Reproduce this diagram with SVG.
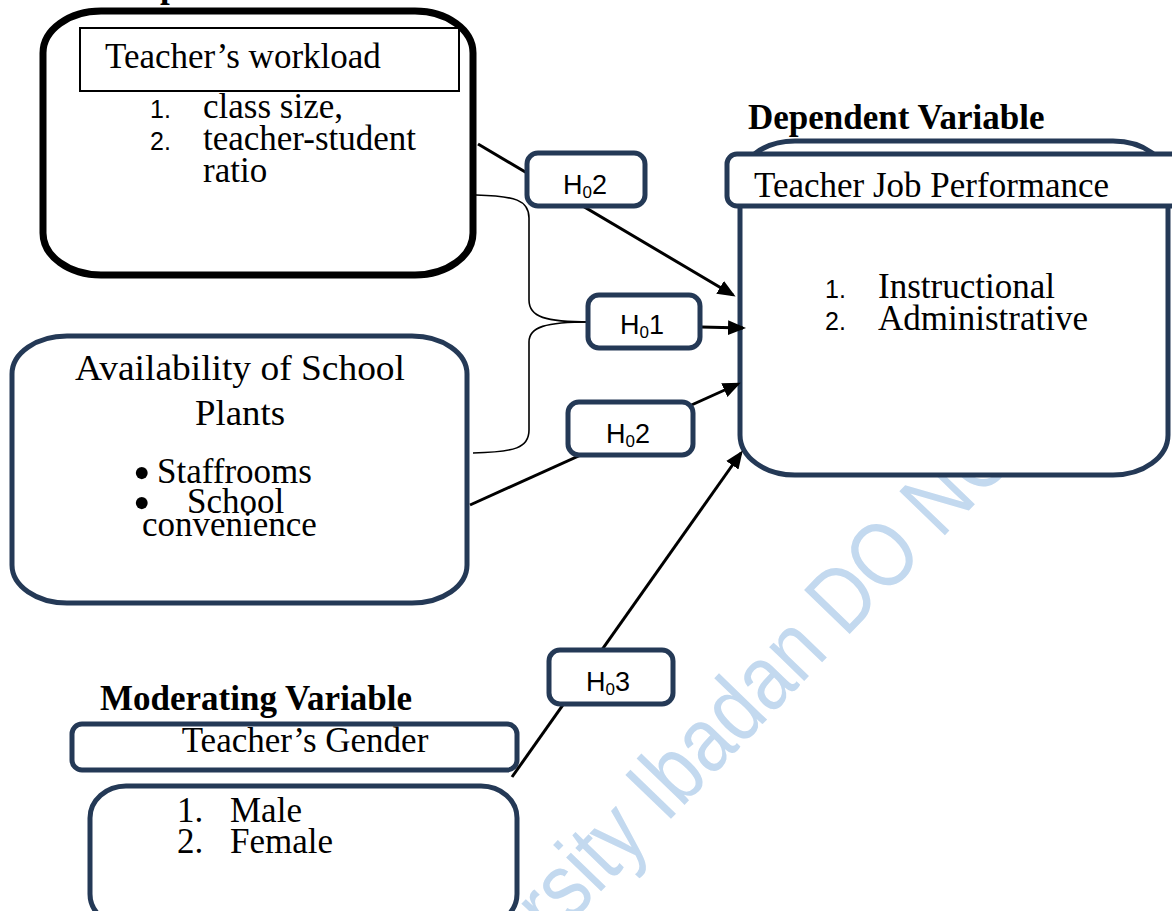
<svg xmlns="http://www.w3.org/2000/svg" width="1172" height="911" viewBox="0 0 1172 911">
<style>
.s{font-family:"Liberation Serif","Times New Roman",serif;font-size:35px;fill:#000}
.b{font-family:"Liberation Serif","Times New Roman",serif;font-size:35px;font-weight:bold;fill:#000}
.n{font-family:"Liberation Sans",Arial,sans-serif;font-size:25px;fill:#000}
.h{font-family:"Liberation Sans",Arial,sans-serif;font-size:27px;fill:#000;text-anchor:middle}
.nv{fill:#fff;stroke:#243956;stroke-width:5}
.hb{fill:#fff;stroke:#243956;stroke-width:5}
.ln{stroke:#000;stroke-width:3;fill:none}
.th{stroke:#000;stroke-width:1.6;fill:none}
.wm{font-family:"Liberation Sans",Arial,sans-serif;font-size:92px;fill:#c3d9ef}
.bl{font-family:"Liberation Serif","Times New Roman",serif;font-size:50px;fill:#000}
</style>
<defs>
<marker id="ah" markerWidth="19" markerHeight="15" refX="15" refY="7.5" orient="auto" markerUnits="userSpaceOnUse">
<path d="M0,0 L18,7.5 L0,15 z" fill="#000"/>
</marker>
</defs>
<rect width="1172" height="911" fill="#fff"/>
<g id="watermark">
<text class="wm" transform="translate(666,824) rotate(-46) scale(0.84,1)" x="-194" y="0">rsity Ibadan DO NO</text>
</g>
<text class="b" x="92" y="-3">Independent Variable</text>
<g id="workload">
<rect x="43" y="11" width="430" height="264" rx="58" ry="42" fill="#fff" stroke="#000" stroke-width="7"/>
<rect x="80" y="28" width="379" height="63" fill="#fff" stroke="#000" stroke-width="2"/>
<text class="s" x="105" y="68">Teacher’s workload</text>
<text class="n" x="150" y="118">1.</text>
<text class="s" x="203" y="118">class size,</text>
<text class="n" x="150" y="150">2.</text>
<text class="s" x="203" y="150">teacher-student</text>
<text class="s" x="203" y="182">ratio</text>
</g>
<g id="plants">
<rect class="nv" x="12" y="336" width="455" height="267" rx="55" ry="38"/>
<text class="s" x="75" y="380" font-size="40" textLength="330" lengthAdjust="spacingAndGlyphs">Availability of School</text>
<text class="s" x="195" y="425" font-size="40" textLength="90" lengthAdjust="spacingAndGlyphs">Plants</text>
<text class="bl" x="133" y="490">•</text>
<text class="s" x="157" y="483">Staffrooms</text>
<text class="bl" x="133" y="520">•</text>
<text class="s" x="187" y="513">School</text>
<text class="s" x="142" y="536">convenience</text>
</g>
<g id="dependent">
<text class="b" x="748" y="129">Dependent Variable</text>
<rect class="nv" x="740" y="141" width="428" height="334" rx="55" ry="40"/>
<rect class="nv" x="727" y="154" width="470" height="52" rx="10"/>
<text class="s" x="754" y="197">Teacher Job Performance</text>
<text class="n" x="825" y="298">1.</text>
<text class="s" x="878" y="298">Instructional</text>
<text class="n" x="825" y="330">2.</text>
<text class="s" x="878" y="330">Administrative</text>
</g>
<g id="moderating">
<text class="b" x="100" y="710">Moderating Variable</text>
<rect class="nv" x="72" y="724" width="445" height="46" rx="10"/>
<text class="s" x="305" y="752" text-anchor="middle">Teacher’s Gender</text>
<rect class="nv" x="90" y="786" width="427" height="140" rx="36" ry="32"/>
<text class="s" x="177" y="822">1.</text>
<text class="s" x="230" y="822">Male</text>
<text class="s" x="177" y="853">2.</text>
<text class="s" x="230" y="853">Female</text>
</g>
<g id="connectors">
<line class="ln" x1="478" y1="144" x2="733" y2="295" marker-end="url(#ah)"/>
<path class="th" d="M476,195 C515,196 529,200 529,218 L529,300 C529,317 545,322 590,322"/>
<path class="th" d="M473,453 C515,452 529,448 529,430 L529,342 C529,327 545,322 590,322"/>
<line class="ln" x1="701" y1="327" x2="743" y2="328" marker-end="url(#ah)"/>
<line class="ln" x1="470" y1="505" x2="738" y2="384" marker-end="url(#ah)"/>
<line class="ln" x1="512" y1="777" x2="741" y2="453" marker-end="url(#ah)"/>
</g>
<g id="h02a">
<rect class="hb" x="527" y="153" width="118" height="53" rx="11"/>
<text class="h" x="585" y="194">H<tspan font-size="17" dy="4">0</tspan><tspan dy="-4">2</tspan></text>
</g>
<g id="h01">
<rect class="hb" x="588" y="295" width="112" height="53" rx="11"/>
<text class="h" x="642" y="334">H<tspan font-size="17" dy="4">0</tspan><tspan dy="-4">1</tspan></text>
</g>
<g id="h02b">
<rect class="hb" x="568" y="402" width="125" height="53" rx="11"/>
<text class="h" x="628" y="443">H<tspan font-size="17" dy="4">0</tspan><tspan dy="-4">2</tspan></text>
</g>
<g id="h03">
<rect class="hb" x="549" y="650" width="124" height="54" rx="11"/>
<text class="h" x="608" y="691">H<tspan font-size="17" dy="4">0</tspan><tspan dy="-4">3</tspan></text>
</g>
</svg>
